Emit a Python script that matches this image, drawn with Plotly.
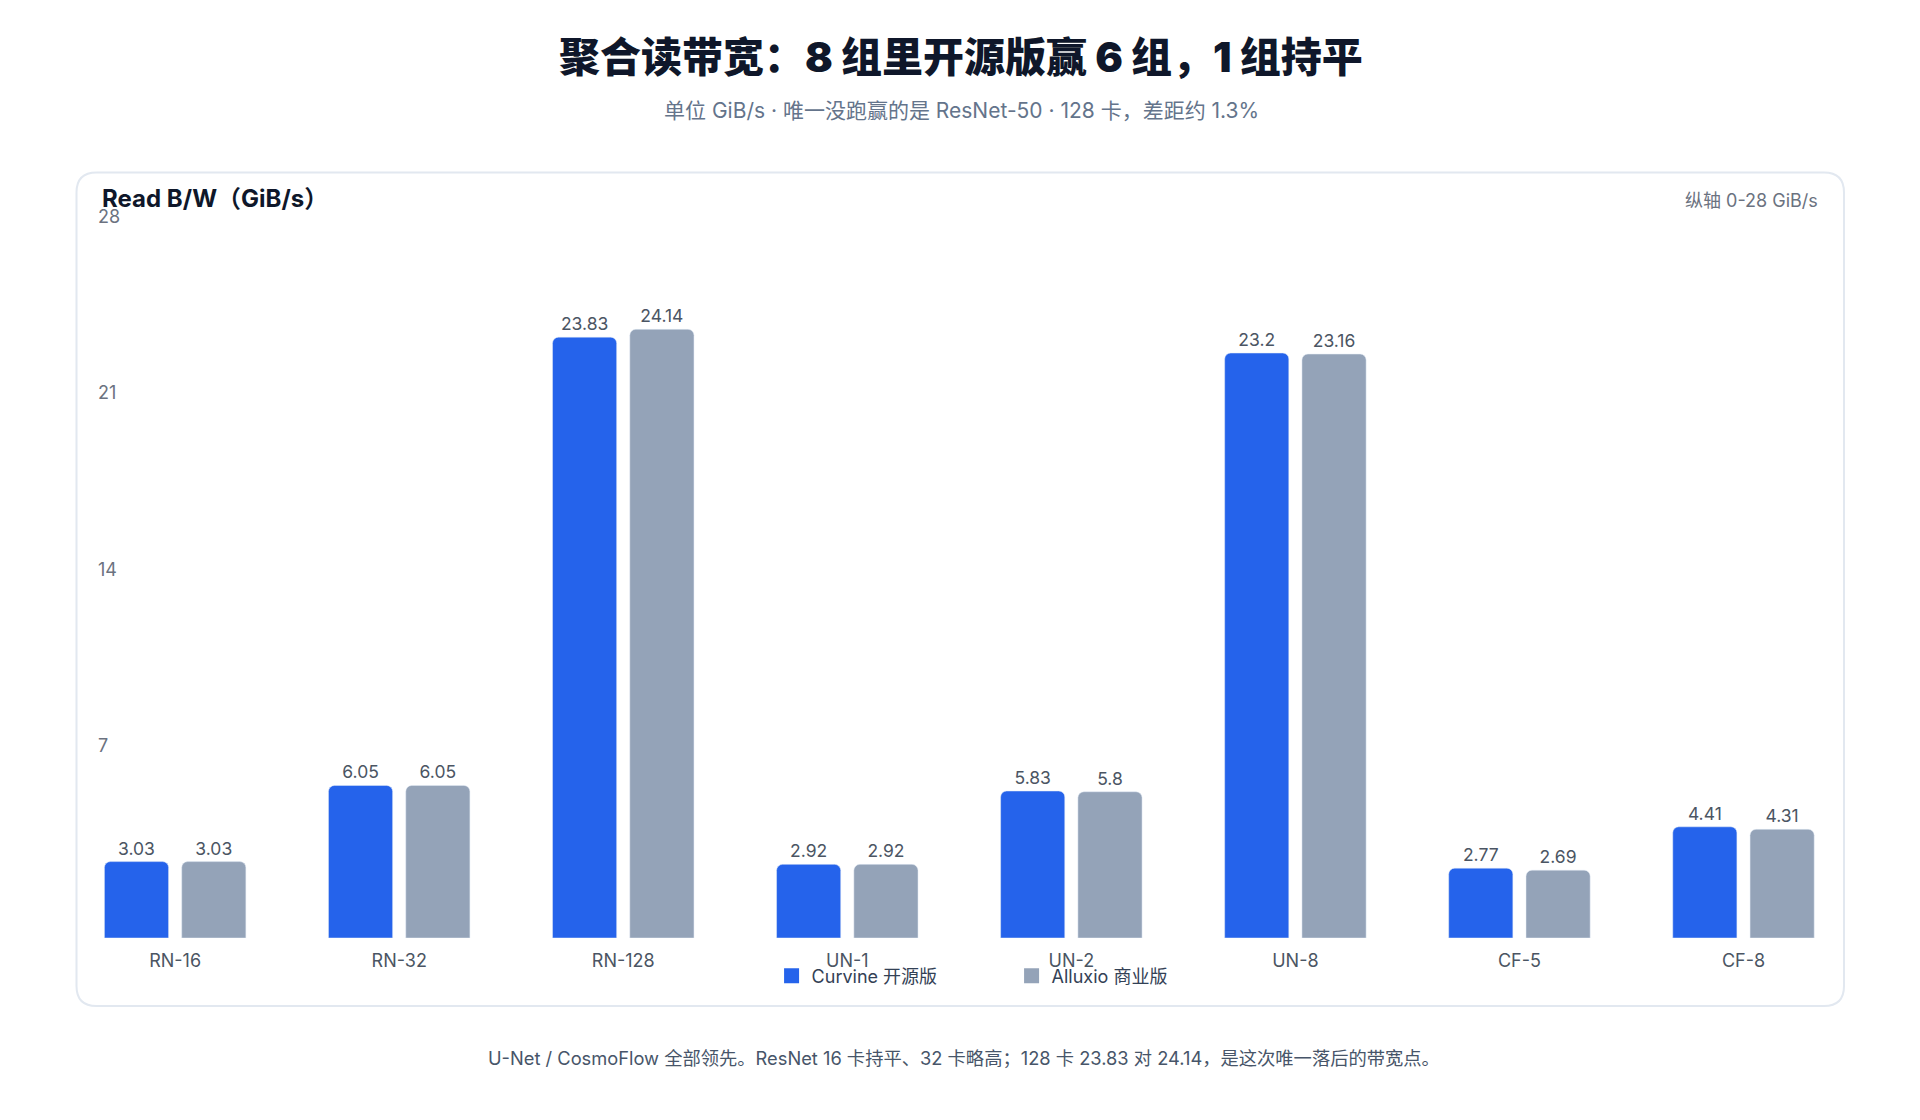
import plotly.graph_objects as go

# data
groups = ["RN-16", "RN-32", "RN-128", "UN-1", "UN-2", "UN-8", "CF-5", "CF-8"]
curvine_bw = [3.03, 6.05, 23.83, 2.92, 5.83, 23.2, 2.77, 4.41]
alluxio_bw = [3.03, 6.05, 24.14, 2.92, 5.8, 23.16, 2.69, 4.31]
y_ticks = [7, 14, 21, 28]

W, H = 1920, 1120
FONT = "Inter, 'Noto Sans CJK SC', sans-serif"
BLUE = "#2563eb"
GREY = "#94a3b8"

fig = go.Figure()
for name, vals, color in [("Curvine 开源版", curvine_bw, BLUE), ("Alluxio 商业版", alluxio_bw, GREY)]:
    fig.add_trace(go.Bar(
        x=groups, y=vals, name=name, marker=dict(color=color), showlegend=False,
        text=[f"{v:g}" for v in vals], textposition="outside",
        textfont=dict(size=17.5, color="#4b5563"), cliponaxis=False,
    ))
    # bigger square swatch for the legend
    fig.add_trace(go.Scatter(
        x=[None], y=[None], mode="markers", name=name,
        marker=dict(symbol="square", size=15, color=color),
    ))


def px(x):
    return x / W


def py(y):
    return 1 - y / H


# card with rounded corners (pixel coords converted to paper)
cx0, cy0, cx1, cy1, r = 68.5, 164.5, 1836, 998, 20
rx, ry = r / W, r / H
path = (
    f"M {px(cx0) + rx},{py(cy0)} L {px(cx1) - rx},{py(cy0)} "
    f"Q {px(cx1)},{py(cy0)} {px(cx1)},{py(cy0) - ry} "
    f"L {px(cx1)},{py(cy1) + ry} Q {px(cx1)},{py(cy1)} {px(cx1) - rx},{py(cy1)} "
    f"L {px(cx0) + rx},{py(cy1)} Q {px(cx0)},{py(cy1)} {px(cx0)},{py(cy1) + ry} "
    f"L {px(cx0)},{py(cy0) - ry} Q {px(cx0)},{py(cy0)} {px(cx0) + rx},{py(cy0)} Z"
)
fig.add_shape(type="path", path=path, xref="paper", yref="paper",
              line=dict(color="#e2e8f0", width=2), fillcolor="rgba(0,0,0,0)", layer="below")

fig.add_annotation(text="聚合读带宽：8 组里开源版赢 6 组，1 组持平",
                   x=0.4964, y=py(49), xref="paper", yref="paper", showarrow=False,
                   font=dict(size=41, color="#0f172a", family=FONT, weight=900),
                   xanchor="center", yanchor="middle")
fig.add_annotation(text="单位 GiB/s · 唯一没跑赢的是 ResNet-50 · 128 卡，差距约 1.3%",
                   x=0.4964, y=py(102), xref="paper", yref="paper", showarrow=False,
                   font=dict(size=21, color="#64748b", family=FONT), xanchor="center", yanchor="middle")
fig.add_annotation(text="<b>Read B/W（GiB/s）</b>",
                   x=px(91.5), y=py(191), xref="paper", yref="paper", showarrow=False,
                   font=dict(size=24, color="#0f172a", family=FONT), xanchor="left", yanchor="middle")
fig.add_annotation(text="纵轴 0-28 GiB/s",
                   x=px(1812), y=py(193), xref="paper", yref="paper", showarrow=False,
                   font=dict(size=18, color="#6b7280", family=FONT), xanchor="right", yanchor="middle")
fig.add_annotation(text="U-Net / CosmoFlow 全部领先。ResNet 16 卡持平、32 卡略高；128 卡 23.83 对 24.14，是这次唯一落后的带宽点。",
                   x=0.498, y=py(1050), xref="paper", yref="paper", showarrow=False,
                   font=dict(size=18.3, color="#475569", family=FONT), xanchor="center", yanchor="middle")

fig.update_layout(
    width=W, height=H,
    margin=dict(l=0, r=0, t=0, b=0, autoexpand=False),
    paper_bgcolor="white", plot_bgcolor="white",
    font=dict(family=FONT, color="#4b5563"),
    barmode="group", bargap=0.31, bargroupgap=0.17, barcornerradius=6,
    showlegend=True,
    legend=dict(orientation="h", x=0.5227, y=py(968), xanchor="center", yanchor="middle",
                font=dict(size=18, color="#334155"), entrywidth=195,
                bgcolor="rgba(0,0,0,0)"),
    xaxis=dict(domain=[px(27), px(1847.5)], showgrid=False, showline=False, ticks="",
               tickfont=dict(size=18, color="#4b5563"), ticklabelstandoff=10),
    yaxis=dict(domain=[py(930), py(224)], range=[0, 28], tickvals=y_ticks,
               showgrid=False, zeroline=False, showline=False,
               ticklabelposition="inside top", ticklabeloverflow="allow",
               ticklabelstandoff=60, ticklabelshift=-3,
               tickfont=dict(size=18, color="#6b7280")),
)

fig.write_html("out.html")
